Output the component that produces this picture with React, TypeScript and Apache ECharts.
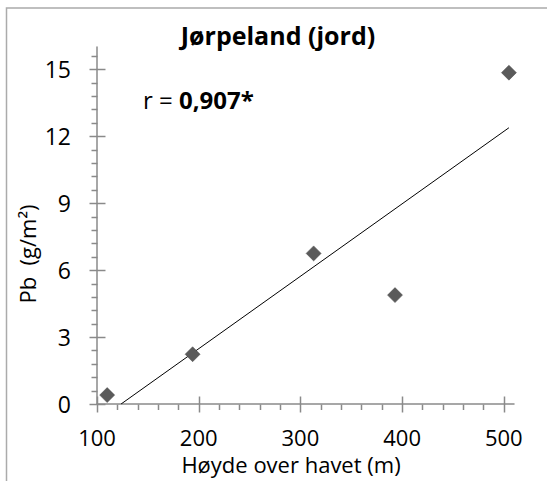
import React, { useEffect, useRef } from "react";
import * as echarts from "echarts";

// ---- data ----
const heights = [110, 194, 313, 393, 505]; // Høyde over havet (m)
const pbValues = [0.4, 2.23, 6.75, 4.88, 14.85]; // Pb (g/m²)
const xMajorTicks = [100, 200, 300, 400, 500];
const yMajorTicks = [0, 3, 6, 9, 12, 15];
const xMinorStep = 20;
const yMinorStep = 0.6;
const titleText = "Jørpeland (jord)";
const rLabel = "r = ";
const rValue = "0,907*";
const xName = "Høyde over havet (m)";
const yName = "Pb  (g/m²)";

const X_MIN = 100;
const X_MAX = 510;
const Y_MIN = 0;
const Y_MAX = 16;

const FONT = '"Open Sans", sans-serif';
const AXIS_COLOR = "#8a8a8a";

function minorTicks(min: number, max: number, step: number, majors: number[]) {
  const out: number[] = [];
  for (let i = 0; ; i++) {
    const v = Math.round((min + i * step) * 1000) / 1000;
    if (v > max) break;
    if (!majors.some((m) => Math.abs(m - v) < 1e-6)) out.push(v);
  }
  return out;
}

// linear trend (least squares) over the data
function trendLine(xs: number[], ys: number[]) {
  const n = xs.length;
  const mx = xs.reduce((a, b) => a + b, 0) / n;
  const my = ys.reduce((a, b) => a + b, 0) / n;
  let sxy = 0;
  let sxx = 0;
  for (let i = 0; i < n; i++) {
    sxy += (xs[i] - mx) * (ys[i] - my);
    sxx += (xs[i] - mx) * (xs[i] - mx);
  }
  const slope = sxy / sxx;
  const intercept = my - slope * mx;
  const x0 = Math.max(Math.min(...xs), -intercept / slope);
  const x1 = Math.max(...xs);
  return [
    [x0, slope * x0 + intercept],
    [x1, slope * x1 + intercept],
  ];
}

// tick marks drawn through the axis scale
function tickSeries(axis: "x" | "y", values: number[], major: boolean) {
  return {
    type: "custom",
    silent: true,
    clip: false,
    z: 1,
    data: values.map((v) => (axis === "x" ? [v, Y_MIN] : [X_MIN, v])),
    renderItem: (_params: any, api: any) => {
      const p = api.coord([api.value(0), api.value(1)]);
      const x = Math.round(p[0]) + 0.5;
      const y = Math.round(p[1]) + 0.5;
      let shape;
      if (axis === "x") {
        shape = major
          ? { x1: x, y1: y - 8, x2: x, y2: y + 8 }
          : { x1: x, y1: y, x2: x, y2: y + 5.5 };
      } else {
        shape = major
          ? { x1: x - 8, y1: y, x2: x + 8, y2: y }
          : { x1: x - 6, y1: y, x2: x, y2: y };
      }
      return {
        type: "line",
        shape,
        style: { stroke: AXIS_COLOR, lineWidth: 1.5 },
      };
    },
  };
}

export default function App() {
  const ref = useRef<HTMLDivElement>(null);

  useEffect(() => {
    if (!ref.current) return;
    const chart = echarts.init(ref.current, undefined, { renderer: "svg" });

    const xMinor = minorTicks(X_MIN, 500, xMinorStep, xMajorTicks);
    const yMinor = minorTicks(Y_MIN, 15.6, yMinorStep, yMajorTicks);
    const axisLineStyle = { color: AXIS_COLOR, width: 1.5 };

    chart.setOption({
      animation: false,
      backgroundColor: "#ffffff",
      grid: { left: 97, right: 33, top: 47, bottom: 77, containLabel: false, outerBoundsMode: "none" },
      graphic: [
        {
          type: "rect",
          shape: { x: 6.5, y: 8, width: 700, height: 700 },
          style: { fill: "none", stroke: "#ababab", lineWidth: 1.5 },
          silent: true,
          z: -1,
        },
        {
          type: "text",
          x: 278,
          y: 35,
          style: {
            text: titleText,
            font: `bold 25px ${FONT}`,
            fill: "#000",
            textAlign: "center",
            textVerticalAlign: "middle",
          },
        },
        {
          type: "text",
          x: 143,
          y: 99,
          style: {
            text: `{a|${rLabel}}{b|${rValue}}`,
            rich: {
              a: { fontSize: 24, fontFamily: FONT, color: "#000" },
              b: { fontSize: 24, fontFamily: FONT, fontWeight: "bold", color: "#000" },
            },
            textAlign: "left",
            textVerticalAlign: "middle",
          },
        },
        {
          type: "text",
          x: 291,
          y: 464,
          style: {
            text: xName,
            font: `22px ${FONT}`,
            fill: "#000",
            textAlign: "center",
            textVerticalAlign: "middle",
          },
        },
        {
          type: "text",
          x: 27,
          y: 254,
          rotation: Math.PI / 2,
          style: {
            text: yName,
            font: `22px ${FONT}`,
            fill: "#000",
            textAlign: "center",
            textVerticalAlign: "middle",
          },
        },
      ],
      xAxis: {
        type: "value",
        min: X_MIN,
        max: X_MAX,
        interval: 100,
        position: "bottom",
        splitLine: { show: false },
        axisLine: { show: true, onZero: false, lineStyle: axisLineStyle },
        axisTick: { show: false },
        axisLabel: {
          customValues: xMajorTicks,
          fontSize: 22,
          fontFamily: FONT,
          color: "#000",
          margin: 22,
        },
      },
      yAxis: {
        type: "value",
        min: Y_MIN,
        max: Y_MAX,
        interval: 3,
        position: "left",
        splitLine: { show: false },
        axisLine: { show: true, onZero: false, lineStyle: axisLineStyle },
        axisTick: { show: false },
        axisLabel: {
          customValues: yMajorTicks,
          fontSize: 23,
          fontFamily: FONT,
          color: "#000",
          margin: 26,
        },
      },
      series: [
        tickSeries("x", xMajorTicks, true),
        tickSeries("x", xMinor, false),
        tickSeries("y", yMajorTicks, true),
        tickSeries("y", yMinor, false),
        {
          type: "line",
          data: trendLine(heights, pbValues),
          showSymbol: false,
          symbol: "none",
          lineStyle: { color: "#000", width: 1 },
          silent: true,
          z: 2,
        },
        {
          type: "scatter",
          data: heights.map((h, i) => [h, pbValues[i]]),
          symbol: "diamond",
          symbolSize: 15,
          itemStyle: { color: "#5a5a5a", opacity: 1, borderColor: "#4a4a4a", borderWidth: 0.5 },
          z: 3,
        },
      ],
    });

    return () => chart.dispose();
  }, []);

  return (
    <div
      ref={ref}
      style={{ position: "absolute", left: 0, top: 0, width: 547, height: 481 }}
    />
  );
}
